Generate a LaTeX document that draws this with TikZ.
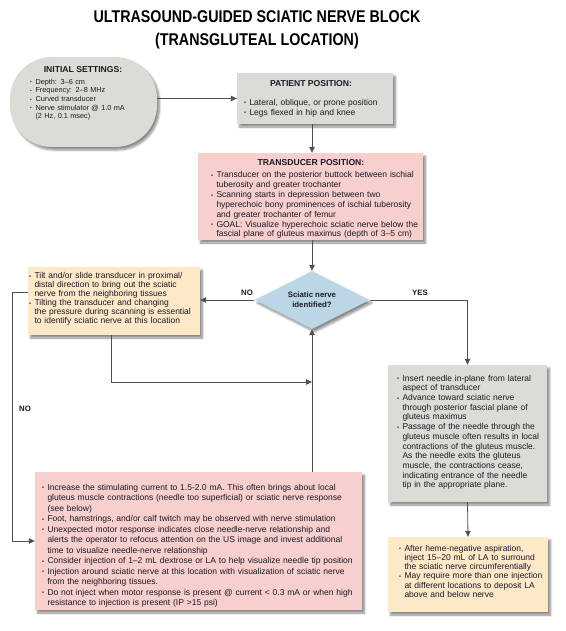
\documentclass[tikz,border=0pt]{standalone}
\usepackage{fontspec}
\setmainfont{Liberation Sans}
\newfontfamily\titlefont{Liberation Sans}[FakeStretch=0.84]
\usetikzlibrary{arrows.meta,shapes.geometric,shadows.blur}
\definecolor{boxgray}{RGB}{220,220,214}
\definecolor{boxpink}{RGB}{247,207,204}
\definecolor{boxyel}{RGB}{253,233,200}
\definecolor{boxblue}{RGB}{188,214,229}
\definecolor{linegray}{RGB}{80,80,80}
\definecolor{txt}{RGB}{25,25,40}
\newcommand{\itm}[1]{\par{\let\\\newline\hangindent=5.3pt\hangafter=1\noindent\strut\makebox[5.3pt][l]{\raisebox{0.4pt}{\scalebox{0.65}{\textbullet}}}#1\par}}
\newcommand{\bfs}[2]{\fontsize{#1}{#2}\selectfont}
\begin{document}
\begin{tikzpicture}[x=1pt,y=-1pt,
  every node/.style={text=txt},
  shad/.style={blur shadow={shadow xshift=2.5pt,shadow yshift=-3pt,shadow blur steps=6,shadow opacity=45}},
  card/.style={shad,rectangle,inner sep=0pt},
  body/.style={anchor=north west,inner sep=0pt,align=left,text width=#1},
  head/.style={inner sep=0pt,font=\bfs{8.6}{9}\bfseries},
  arr/.style={draw=linegray,line width=0.8pt,-{Triangle[length=6pt,width=5.5pt]}},
  lab/.style={font=\bfs{7.8}{9}\bfseries}]
\useasboundingbox (0,0) rectangle (565,631);
\node (title) at (257,29.5) [align=center,font=\titlefont\bfs{17}{23}\bfseries,text=black]
  {ULTRASOUND-GUIDED SCIATIC NERVE BLOCK\\(TRANSGLUTEAL LOCATION)};
% initial settings
\node (pill) at (83.5,102) [shad,fill=boxgray,rounded corners=42pt,minimum width=147pt,minimum height=90pt,inner sep=0pt] {};
\node (pillhead) at (83,70) [head] {INITIAL SETTINGS:};
\node (pillbody) at (30,75.5) [body=125pt,font=\bfs{7.3}{8.6}]
  {\itm{Depth: 3–6 cm}
   \itm{Frequency: 2–8 MHz}
   \itm{Curved transducer}
   \itm{Nerve stimulator @ 1.0 mA\\(2 Hz, 0.1 msec)}};
% patient
\node (pat) at (315,98.5) [card,fill=boxgray,minimum width=156pt,minimum height=51pt] {};
\node (pathead) at (311,84) [head] {PATIENT POSITION:};
\node (patbody) at (244,95) [body=150pt,font=\bfs{8.5}{10}]
  {\itm{Lateral, oblique, or prone position}
   \itm{Legs flexed in hip and knee}};
% transducer
\node (trans) at (310.5,196.5) [card,fill=boxpink,minimum width=225pt,minimum height=87pt] {};
\node (transhead) at (311,163) [head] {TRANSDUCER POSITION:};
\node (transbody) at (211,168) [body=220pt,font=\bfs{8.5}{9.8}]
  {\itm{Transducer on the posterior buttock between ischial\\tuberosity and greater trochanter}
   \itm{Scanning starts in depression between two\\hyperechoic bony prominences of ischial tuberosity\\and greater trochanter of femur}
   \itm{GOAL: Visualize hyperechoic sciatic nerve below the\\fascial plane of gluteus maximus (depth of 3–5 cm)}};
% decision
\node (diam) at (312,300) [shad,diamond,aspect=2,fill=boxblue,minimum width=115pt,minimum height=58pt,inner sep=0pt,
  align=center,font=\bfs{7.8}{10}\bfseries] {Sciatic nerve\\identified?};
% left yellow
\node (yl) at (114,301) [card,fill=boxyel,minimum width=172pt,minimum height=68pt] {};
\node (ylbody) at (29,269.8) [body=175pt,font=\bfs{8.5}{8.9}]
  {\itm{Tilt and/or slide transducer in proximal/\\distal direction to bring out the sciatic\\nerve from the neighboring tissues}
   \itm{Tilting the transducer and changing\\the pressure during scanning is essential\\to identify sciatic nerve at this location}};
% right gray
\node (gr) at (467.5,433.5) [card,fill=boxgray,minimum width=159pt,minimum height=137pt] {};
\node (grbody) at (397,371.2) [body=155pt,font=\bfs{8.5}{9.7}]
  {\itm{Insert needle in-plane from lateral\\aspect of transducer}
   \itm{Advance toward sciatic nerve\\through posterior fascial plane of\\gluteus maximus}
   \itm{Passage of the needle through the\\gluteus muscle often results in local\\contractions of the gluteus muscle.\\As the needle exits the gluteus\\muscle, the contractions cease,\\indicating entrance of the needle\\tip in the appropriate plane.}};
% right yellow
\node (yr) at (468,574.5) [card,fill=boxyel,minimum width=160pt,minimum height=75pt] {};
\node (yrbody) at (399,541.5) [body=155pt,font=\bfs{8.5}{9.3}]
  {\itm{After heme-negative aspiration,\\inject 15–20 mL of LA to surround\\the sciatic nerve circumferentially}
   \itm{May require more than one injection\\at different locations to deposit LA\\above and below nerve}};
% bottom pink
\node (pb) at (198.5,541) [card,fill=boxpink,minimum width=327pt,minimum height=138pt] {};
\node (pbbody) at (42,479.6) [body=330pt,font=\bfs{8.5}{10.5}]
  {\itm{Increase the stimulating current to 1.5-2.0 mA. This often brings about local\\gluteus muscle contractions (needle too superficial) or sciatic nerve response\\(see below)}
   \itm{Foot, hamstrings, and/or calf twitch may be observed with nerve stimulation}
   \itm{Unexpected motor response indicates close needle-nerve relationship and\\alerts the operator to refocus attention on the US image and invest additional\\time to visualize needle-nerve relationship}
   \itm{Consider injection of 1–2 mL dextrose or LA to help visualize needle tip position}
   \itm{Injection around sciatic nerve at this location with visualization of sciatic nerve\\from the neighboring tissues.}
   \itm{Do not inject when motor response is present @ current < 0.3 mA or when high\\resistance to injection is present (IP >15 psi)}};
% coordinates
\coordinate (nl) at (12,292);
\coordinate (j1) at (111,382);
% connectors
\draw[arr] (pill.east |- pat.west) -- (pat.west);
\draw[arr] (pat.south -| diam.north) -- (trans.north -| diam.north);
\draw[arr] (trans.south -| diam.north) -- (diam.north);
\draw[arr] (diam.west) -- (diam.west -| yl.east);
\draw[arr] (diam.east) -| (gr.north);
\draw[arr] (gr.south) -- (yr.north);
\draw[arr] (yl.west |- nl) -- (nl) |- (pb.west);
\draw[arr] (yl.south -| j1) -- (j1) -- (j1 -| diam.south);
\draw[arr] (pb.north -| diam.south) -- (diam.south);
% labels
\node (no1) at (247,293) [lab] {NO};
\node (yes) at (420,293) [lab] {YES};
\node (no2) at (25,409) [lab] {NO};
\end{tikzpicture}
\end{document}
